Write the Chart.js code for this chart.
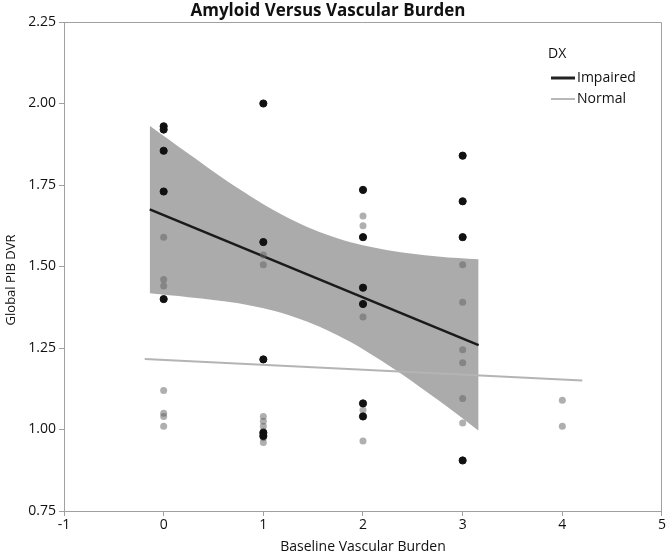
<!DOCTYPE html>
<html>
<head>
<meta charset="utf-8">
<script src="https://cdn.jsdelivr.net/npm/chart.js@4.4.1/dist/chart.umd.min.js"></script>
<style>
  html, body { margin: 0; padding: 0; background: #fff; }
  #wrap { width: 667px; height: 557px; }
</style>
</head>
<body>
<div id="wrap"><canvas id="c" width="667" height="557"></canvas></div>
<script>
// values
const impairedX = [0, 0, 0, 0, 0, 1, 1, 1, 1, 1, 2, 2, 2, 2, 2, 2, 3, 3, 3, 3];
const impairedY = [1.93, 1.92, 1.855, 1.73, 1.40, 2.00, 1.575, 1.215, 0.99, 0.98,
                   1.735, 1.59, 1.435, 1.385, 1.08, 1.04, 1.84, 1.70, 1.59, 0.905];

const normalX = [0, 0, 0, 0, 0, 0, 0, 1, 1, 1, 1, 1, 1, 1, 1, 2, 2, 2, 2, 2, 3, 3, 3, 3, 3, 3, 4, 4];
const normalY = [1.59, 1.46, 1.44, 1.12, 1.05, 1.04, 1.01,
                 1.535, 1.505, 1.04, 1.025, 1.01, 0.995, 0.975, 0.96,
                 1.655, 1.625, 1.345, 1.06, 0.965,
                 1.505, 1.39, 1.245, 1.205, 1.095, 1.02,
                 1.09, 1.01];

// fit lines (end points)
const impairedFitX = [-0.14, 3.16];
const impairedFitY = [1.675, 1.259];
const normalFitX = [-0.19, 4.20];
const normalFitY = [1.216, 1.150];

// confidence band of the impaired fit
const bandX = [-0.14, 0.25, 0.75, 1.25, 1.75, 2.25, 2.75, 3.16];
const bandUpper = [1.932, 1.846, 1.739, 1.649, 1.586, 1.550, 1.531, 1.522];
const bandLower = [1.418, 1.406, 1.387, 1.351, 1.288, 1.198, 1.091, 0.996];

const xTicks = [-1, 0, 1, 2, 3, 4, 5];
const yTicks = [0.75, 1.00, 1.25, 1.50, 1.75, 2.00, 2.25];

const pts = (xs, ys) => xs.map((x, i) => ({ x: x, y: ys[i] }));
const FONT = "'Open Sans', sans-serif";

const decor = {
  id: 'decor',
  afterDraw(chart) {
    const ctx = chart.ctx, a = chart.chartArea;
    ctx.save();
    // frame top/right
    ctx.strokeStyle = '#a0a0a0';
    ctx.lineWidth = 1;
    ctx.beginPath();
    ctx.moveTo(a.left, a.top + 0.5);
    ctx.lineTo(a.right - 0.5, a.top + 0.5);
    ctx.lineTo(a.right - 0.5, a.bottom);
    ctx.stroke();
    // title
    ctx.fillStyle = '#111';
    ctx.font = "bold 17px " + FONT;
    ctx.textAlign = 'center';
    ctx.textBaseline = 'middle';
    ctx.fillText('Amyloid Versus Vascular Burden', 328, 11);
    // y axis title
    ctx.save();
    ctx.translate(11, 280);
    ctx.rotate(-Math.PI / 2);
    ctx.font = "13px " + FONT;
    ctx.fillText('Global PIB DVR', 0, 0);
    ctx.restore();
    // legend
    ctx.textAlign = 'left';
    ctx.font = "14px " + FONT;
    ctx.fillText('DX', 548, 54);
    ctx.strokeStyle = '#222';
    ctx.lineWidth = 3;
    ctx.beginPath(); ctx.moveTo(551, 78); ctx.lineTo(575, 78); ctx.stroke();
    ctx.fillText('Impaired', 577, 78);
    ctx.strokeStyle = '#b8b8b8';
    ctx.lineWidth = 2;
    ctx.beginPath(); ctx.moveTo(551, 99); ctx.lineTo(575, 99); ctx.stroke();
    ctx.fillText('Normal', 577, 99);
    ctx.restore();
  }
};

new Chart(document.getElementById('c'), {
  type: 'scatter',
  data: {
    datasets: [
      {
        label: 'Impaired',
        data: pts(impairedX, impairedY),
        backgroundColor: '#111',
        borderColor: '#111',
        pointRadius: 3.6,
        order: 0
      },
      {
        label: 'Normal',
        data: pts(normalX, normalY),
        backgroundColor: 'rgba(95,95,95,0.5)',
        borderColor: 'rgba(95,95,95,0)',
        pointRadius: 3.5,
        order: 1
      },
      {
        label: 'Impaired fit',
        data: pts(impairedFitX, impairedFitY),
        showLine: true,
        borderColor: '#1a1a1a',
        borderWidth: 2.5,
        pointRadius: 0,
        order: 2
      },
      {
        label: 'Normal fit',
        data: pts(normalFitX, normalFitY),
        showLine: true,
        borderColor: '#b4b4b4',
        borderWidth: 2,
        pointRadius: 0,
        order: 3
      },
      {
        label: 'upper',
        data: pts(bandX, bandUpper),
        showLine: true,
        borderWidth: 0,
        borderColor: 'rgba(0,0,0,0)',
        backgroundColor: '#ababab',
        pointRadius: 0,
        tension: 0.35,
        fill: '+1',
        order: 4
      },
      {
        label: 'lower',
        data: pts(bandX, bandLower),
        showLine: true,
        borderWidth: 0,
        borderColor: 'rgba(0,0,0,0)',
        pointRadius: 0,
        tension: 0.35,
        order: 5
      }
    ]
  },
  options: {
    responsive: false,
    animation: false,
    layout: { padding: { top: 22, right: 5, left: 0, bottom: 0 } },
    plugins: {
      legend: { display: false },
      tooltip: { enabled: false },
      title: { display: false }
    },
    scales: {
      x: {
        type: 'linear',
        min: -1, max: 5,
        afterBuildTicks: s => { s.ticks = xTicks.map(v => ({ value: v })); },
        afterFit: s => { s.height = 46; },
        grid: { drawOnChartArea: false, drawTicks: true, tickLength: 5, color: '#a0a0a0' },
        border: { color: '#a0a0a0' },
        ticks: { color: '#111', font: { family: FONT, size: 14 }, padding: 1 },
        title: { display: true, text: 'Baseline Vascular Burden', color: '#111',
                 font: { family: FONT, size: 14 }, padding: { top: 0, bottom: 2 } }
      },
      y: {
        min: 0.75, max: 2.25,
        afterBuildTicks: s => { s.ticks = yTicks.map(v => ({ value: v })); },
        afterFit: s => { s.width = 64; },
        grid: { drawOnChartArea: false, drawTicks: true, tickLength: 5, color: '#a0a0a0' },
        border: { color: '#a0a0a0' },
        ticks: { color: '#111', font: { family: FONT, size: 14 }, padding: 3,
                 callback: v => v.toFixed(2) }
      }
    }
  },
  plugins: [decor]
});
</script>
</body>
</html>
